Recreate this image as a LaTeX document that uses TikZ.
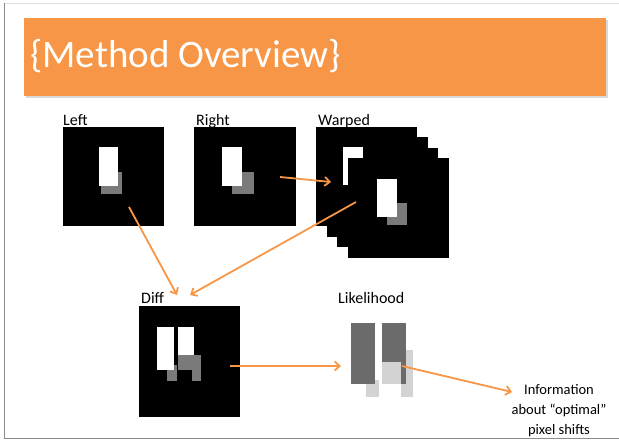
\documentclass[tikz,border=0pt]{standalone}
\usepackage{fontspec}
\setmainfont{Carlito}
\usetikzlibrary{arrows.meta}
\definecolor{slideorange}{HTML}{F79646}
\definecolor{likedark}{HTML}{6B6B6B}
\definecolor{likelight}{HTML}{D3D3D3}
\definecolor{pixgray}{HTML}{7A7A7A}
\tikzset{
  lbl/.style={anchor=base west, inner sep=0pt, font=\fontsize{16}{18}\selectfont},
  conn/.style={draw=slideorange, line width=1.8pt, -{Straight Barb[length=5pt, width=9pt]}},
}
\begin{document}
\begin{tikzpicture}[x=1pt, y=-1pt]
  \useasboundingbox (0,0) rectangle (619,442);
  \draw[black!12, line width=0.8pt] (4,3) -- (619,3);
  \draw[black!45, line width=1pt] (4,3) -- (4,438) -- (619,438);
  \fill[black!15] (26,20) rectangle (608,98);
  \fill[slideorange] (24,18) rectangle (606,96);
  \node[anchor=west, inner sep=0pt, text=white, font=\fontsize{39}{44}\selectfont] (title) at (30,56) {\{Method Overview\}};
  \fill (63,127) rectangle (164,226);
  \fill[pixgray] (101,172) rectangle (122,194);
  \fill[white] (99,147) rectangle (118,186);
  \node[lbl] (leftlbl) at (63,125) {Left};
  \fill (194,127) rectangle (296,226);
  \fill[pixgray] (232,172) rectangle (254,194);
  \fill[white] (222,147) rectangle (242,186);
  \node[lbl] (rightlbl) at (196,125) {Right};
  \fill (316,127) rectangle (417,226);
  \fill (327,137) rectangle (428,237);
  \fill (337,148) rectangle (438,247);
  \fill[white] (343,147) rectangle (363,185);
  \fill (348,158) rectangle (449,258);
  \fill[pixgray] (387,203) rectangle (407,225);
  \fill[white] (377,179) rectangle (397,217);
  \node[lbl] (warpedlbl) at (318,125) {Warped};
  \fill (139,306) rectangle (240,417);
  \fill[pixgray] (167,365) rectangle (177,381);
  \fill[white] (157,327) rectangle (174,370);
  \fill[white] (178,327) rectangle (194,355);
  \fill[pixgray] (178,355) rectangle (192,370);
  \fill[pixgray] (192,355) rectangle (201,381);
  \node[lbl] (difflbl) at (141,303) {Diff};
  \fill[likelight] (366,380) rectangle (379,397);
  \fill[likedark] (351,323) rectangle (375,384);
  \fill[likelight] (401,350) rectangle (413,397);
  \fill[likedark] (382,323) rectangle (406,384);
  \fill[likelight] (382,362) rectangle (401,384);
  \node[lbl] (likelbl) at (338,303) {Likelihood};
  \node[align=center, inner sep=0pt, font=\fontsize{14.5}{20}\selectfont] (info) at (559,411) {Information\\about “optimal”\\pixel shifts};
  \coordinate (leftOut) at (129,207);
  \coordinate (diffInL) at (177,295);
  \coordinate (warpOut) at (356,202);
  \coordinate (diffInR) at (190,295);
  \coordinate (rightOut) at (280,177);
  \coordinate (warpIn) at (331,182);
  \coordinate (diffOut) at (230,366);
  \coordinate (likeIn) at (341,366);
  \coordinate (likeOut) at (402,366);
  \coordinate (infoIn) at (512,392);
  \draw[conn] (leftOut) -- (diffInL);
  \draw[conn] (warpOut) -- (diffInR);
  \draw[conn] (rightOut) -- (warpIn);
  \draw[conn] (diffOut) -- (likeIn);
  \draw[conn] (likeOut) -- (infoIn);
  \fill[white] (5,438.5) rectangle (619,442);
  \draw[black!45, line width=1pt] (4,438) -- (619,438);
\end{tikzpicture}
\end{document}
